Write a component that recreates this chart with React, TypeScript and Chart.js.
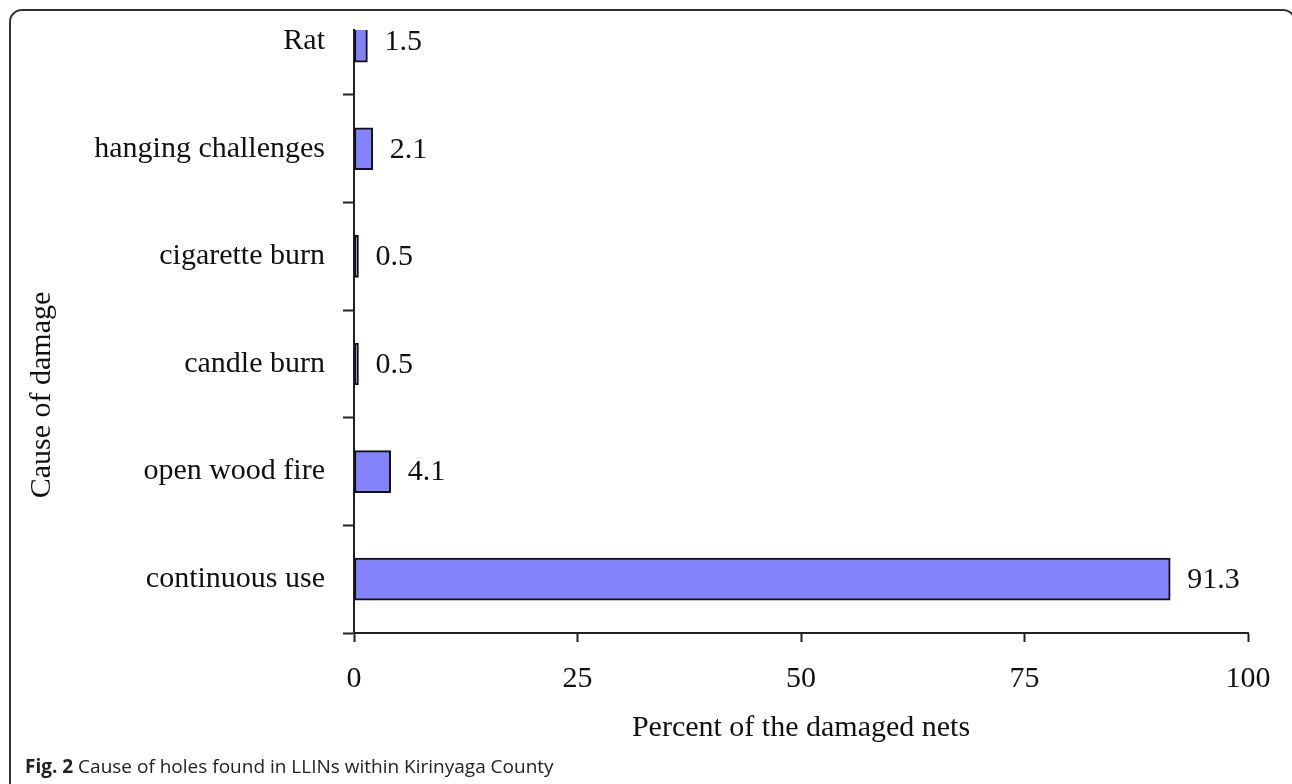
import React, { useEffect, useRef } from "react";
import { Chart, registerables } from "chart.js";

Chart.register(...registerables);

const categories = [
  "Rat",
  "hanging challenges",
  "cigarette burn",
  "candle burn",
  "open wood fire",
  "continuous use",
];
const values = [1.5, 2.1, 0.5, 0.5, 4.1, 91.3];
const valueLabels = ["1.5", "2.1", "0.5", "0.5", "4.1", "91.3"];
const xTickValues = [0, 25, 50, 75, 100];
const xTitle = "Percent of the damaged nets";
const yTitle = "Cause of damage";
const captionBold = "Fig. 2";
const captionText = " Cause of holes found in LLINs within Kirinyaga County";

const SERIF = '"Liberation Serif", "Times New Roman", serif';

export default function App() {
  const ref = useRef<HTMLCanvasElement | null>(null);

  useEffect(() => {
    if (!ref.current) return;
    const yTicks = categories.flatMap((_, i) => [i, i + 0.5]);

    const valueLabelPlugin = {
      id: "valueLabels",
      afterDatasetsDraw(chart: any) {
        const ctx = chart.ctx;
        const meta = chart.getDatasetMeta(0);
        ctx.save();
        ctx.font = `30px ${SERIF}`;
        ctx.fillStyle = "#111";
        ctx.textAlign = "left";
        ctx.textBaseline = "middle";
        meta.data.forEach((bar: any, i: number) => {
          const p = bar.getProps(["x", "y"], true);
          ctx.fillText(valueLabels[i], p.x + 17, p.y + 1);
        });
        ctx.restore();
      },
    };

    const yTitlePlugin = {
      id: "yTitle",
      afterDraw(chart: any) {
        const ctx = chart.ctx;
        ctx.save();
        ctx.font = `30px ${SERIF}`;
        ctx.fillStyle = "#111";
        ctx.textAlign = "center";
        ctx.textBaseline = "middle";
        ctx.translate(42, chart.chartArea.bottom - 238);
        ctx.rotate(-Math.PI / 2);
        ctx.fillText(yTitle, 0, 0);
        ctx.restore();
      },
    };

    const chart = new Chart(ref.current, {
      type: "bar",
      data: {
        datasets: [
          {
            data: values.map((v, i) => ({ x: v, y: i })),
            backgroundColor: "#8282fc",
            borderColor: "#111",
            borderWidth: 2,
            borderSkipped: false,
            barThickness: 42,
            clip: { left: 5, top: 0, right: 5, bottom: 5 } as any,
          },
        ],
      },
      options: {
        indexAxis: "y",
        animation: false,
        responsive: false,
        events: [],
        layout: { padding: { left: 0, top: 30, right: 44, bottom: 38 } },
        plugins: {
          legend: { display: false },
          tooltip: { enabled: false },
          title: { display: false },
        },
        scales: {
          x: {
            type: "linear",
            position: "bottom",
            min: 0,
            max: 100,
            offset: false,
            afterBuildTicks: (scale: any) => {
              scale.ticks = xTickValues.map((value) => ({ value }));
            },
            afterFit: (scale: any) => {
              scale.height = 113;
            },
            grid: {
              offset: false,
              drawOnChartArea: false,
              drawTicks: true,
              tickLength: 9,
              tickColor: "#222",
              tickWidth: 2,
            },
            border: { display: true, color: "#222", width: 2 },
            ticks: {
              color: "#111",
              padding: 19,
              font: { family: SERIF, size: 30 },
              autoSkip: false,
              maxRotation: 0,
            },
            title: {
              display: true,
              text: xTitle,
              color: "#111",
              font: { family: SERIF, size: 30 },
              padding: { top: 14, bottom: 0 },
            },
          },
          y: {
            type: "linear",
            position: "left",
            reverse: true,
            min: -0.104,
            max: 5.5,
            bounds: "data",
            offset: false,
            afterBuildTicks: (scale: any) => {
              scale.ticks = yTicks.map((value) => ({ value }));
            },
            afterFit: (scale: any) => {
              scale.width = 354;
              scale.paddingTop = 0;
              scale.paddingBottom = 0;
            },
            grid: {
              offset: false,
              drawOnChartArea: false,
              drawTicks: true,
              tickLength: 11,
              tickWidth: 2,
              tickColor: (c: any) =>
                c.tick && Number.isInteger(c.tick.value) ? "rgba(0,0,0,0)" : "#222",
            },
            border: { display: true, color: "#222", width: 2 },
            ticks: {
              color: "#111",
              padding: 18,
              autoSkip: false,
              font: { family: SERIF, size: 30 },
              callback: (v: any) =>
                Number.isInteger(v) ? categories[v as number] : "",
            },
          },
        },
      },
      plugins: [valueLabelPlugin, yTitlePlugin],
    });
    return () => chart.destroy();
  }, []);

  return (
    <div
      style={{
        position: "fixed",
        left: 0,
        top: 0,
        width: 1292,
        height: 784,
        overflow: "hidden",
        background: "#fff",
      }}
    >
      <div
        style={{
          position: "absolute",
          left: 9,
          top: 9,
          width: 1287,
          height: 900,
          border: "2px solid #333",
          borderRadius: 13,
          boxSizing: "border-box",
        }}
      />
      <canvas
        ref={ref}
        width={1292}
        height={784}
        style={{ position: "absolute", left: 0, top: 0 }}
      />
      <div
        style={{
          position: "absolute",
          left: 25,
          top: 754,
          fontFamily: '"Open Sans", "Noto Sans", sans-serif',
          fontSize: 19,
          lineHeight: "24px",
          color: "#222",
          whiteSpace: "nowrap",
        }}
      >
        <b>{captionBold}</b>
        {captionText}
      </div>
    </div>
  );
}
